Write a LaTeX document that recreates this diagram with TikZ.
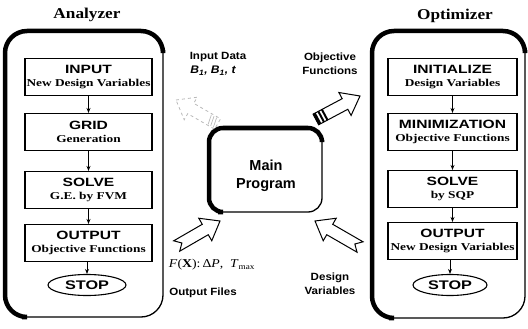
\documentclass[tikz,border=0pt]{standalone}
\usepackage{fontspec}
\setmainfont{Liberation Serif}
\setsansfont{Liberation Sans}
\newfontfamily\hdfont[FakeStretch=1.3]{Liberation Sans}
\newfontfamily\sbfont[FakeStretch=1.27]{Liberation Serif}
\newfontfamily\lblfont[FakeStretch=1.1]{Liberation Sans}
\newfontfamily\ttlfont[FakeStretch=1.15]{Liberation Serif}
\newfontfamily\fxfont[FakeStretch=1.15]{Liberation Serif}
\usetikzlibrary{shapes.geometric,arrows.meta}
\newcommand{\boxhead}[1]{{\hdfont\bfseries\fontsize{12}{13}\selectfont #1}}
\newcommand{\boxsubt}[1]{{\sbfont\bfseries\fontsize{10.5}{11}\selectfont #1}}
\begin{document}
\begin{tikzpicture}[x=1pt,y=-1pt,
  box/.style={draw, line width=1.1pt, minimum width=127pt, minimum height=37pt, align=center, inner sep=1pt},
  stopnode/.style={draw, ellipse, line width=1.1pt, minimum width=78pt, minimum height=21pt, font=\hdfont\bfseries\fontsize{12.5}{13}\selectfont, inner sep=0pt},
  flow/.style={-{Stealth[length=5pt,width=4pt]}, line width=1pt},
  ttl/.style={font=\ttlfont\bfseries\fontsize{15}{17}\selectfont},
  lbl/.style={font=\lblfont\bfseries\fontsize{10.5}{14}\selectfont, align=center},
  blk/.style={draw, line width=1pt, fill=white, line join=miter},
  cont/.style={draw, line width=1.3pt, rounded corners=22pt},
  heavy/.style={line width=4.5pt, rounded corners=22pt}
]
\useasboundingbox (0,0) rectangle (528,329);

% titles
\node[ttl] (tA) at (87,15) {Analyzer};
\node[ttl] (tO) at (455,16) {Optimizer};

% containers
\node[cont, minimum width=158pt, minimum height=286pt] (cA) at (84,174) {};
\draw[heavy] (22,317) -- (5,317) -- (5,31) -- (163,31) -- (163,50);
\node[cont, minimum width=153pt, minimum height=287pt] (cO) at (448.5,174.5) {};
\draw[heavy] (389,318) -- (372,318) -- (372,31) -- (525,31) -- (525,50);

% analyzer boxes
\node[box] (a1) at (88.5,77) {\boxhead{INPUT}\\[1pt]\boxsubt{New Design Variables}};
\node[box] (a2) at (88.5,132) {\boxhead{GRID}\\[1pt]\boxsubt{Generation}};
\node[box] (a3) at (88.5,190) {\boxhead{SOLVE}\\[1pt]\boxsubt{G.E. by FVM}};
\node[box] (a4) at (88.5,243) {\boxhead{OUTPUT}\\[1pt]\boxsubt{Objective Functions}};
\node[stopnode] (a5) at (87,285) {STOP};
\draw[flow] (a1) -- (a2);
\draw[flow] (a2) -- (a3);
\draw[flow] (a3) -- (a4);
\draw[flow] (a4.south -| a5) -- (a5);

% optimizer boxes
\node[box, minimum width=129pt] (o1) at (452.5,77) {\boxhead{INITIALIZE}\\[1pt]\boxsubt{Design Variables}};
\node[box, minimum width=129pt] (o2) at (452.5,132) {\boxhead{MINIMIZATION}\\[1pt]\boxsubt{Objective Functions}};
\node[box, minimum width=129pt] (o3) at (452.5,189) {\boxhead{SOLVE}\\[1pt]\boxsubt{by SQP}};
\node[box, minimum width=129pt] (o4) at (452.5,241) {\boxhead{OUTPUT}\\[1pt]\boxsubt{New Design Variables}};
\node[stopnode, minimum width=74pt] (o5) at (450,285) {STOP};
\draw[flow] (o1) -- (o2);
\draw[flow] (o2) -- (o3);
\draw[flow] (o3) -- (o4);
\draw[flow] (o4.south -| o5) -- (o5);

% main program
\node[draw, line width=1.3pt, rounded corners=14pt, minimum width=113pt, minimum height=84pt] (mb) at (265.5,170) {};
\draw[line width=4.5pt, rounded corners=14pt] (218,212) -- (209,212) -- (209,128) -- (322,128) -- (322,140);
\node[font=\sffamily\bfseries\fontsize{14.5}{18}\selectfont, align=center] (main) at (266,176) {Main\\Program};

% block arrows
\draw[blk, shift={(220,221)}, rotate=30] (0,0) -- (-17,13) -- (-17,6) -- (-50,6) -- (-44,0) -- (-50,-6) -- (-17,-6) -- (-17,-13) -- cycle;
\draw[blk, shift={(315,221)}, rotate=150] (0,0) -- (-17,13) -- (-17,6) -- (-52,6) -- (-46,0) -- (-52,-6) -- (-17,-6) -- (-17,-13) -- cycle;
\begin{scope}[shift={(360,96)}, rotate=28]
\draw[blk] (0,0) -- (-17,13) -- (-17,6) -- (-50,6) -- (-50,-6) -- (-17,-6) -- (-17,-13) -- cycle;
\fill (-50,-6) rectangle (-47,6);
\fill (-45,-6) rectangle (-43,6);
\fill (-41,-6) rectangle (-39,6);
\end{scope}
\begin{scope}[shift={(176,100)}, rotate=150]
\draw[draw=gray!55, dashed, line width=0.8pt] (0,0) -- (-17,13) -- (-17,6) -- (-48,6) -- (-48,-6) -- (-17,-6) -- (-17,-13) -- cycle;
\draw[gray!55, line width=0.7pt] (-46,-5) -- (-44,5) (-43,-5) -- (-41,5) (-40,-5) -- (-38,5);
\end{scope}

% labels
\node[lbl] (indata) at (218,57) {Input Data};
\node[font=\lblfont\bfseries\itshape\fontsize{11}{12}\selectfont] (bvars) at (213,71) {B\textsubscript{1}, B\textsubscript{1}, t};
\node[lbl] (objf) at (330,64) {Objective\\Functions};
\node[font=\fxfont\fontsize{12}{13}\selectfont] (fx) at (212,265) {\textit{F}(\textbf{X}):\,Δ\textit{P}, \ \textit{T}\textsubscript{max}};
\node[lbl] (outf) at (203,293) {Output Files};
\node[lbl] (dv) at (330,284) {Design\\Variables};
\end{tikzpicture}
\end{document}
